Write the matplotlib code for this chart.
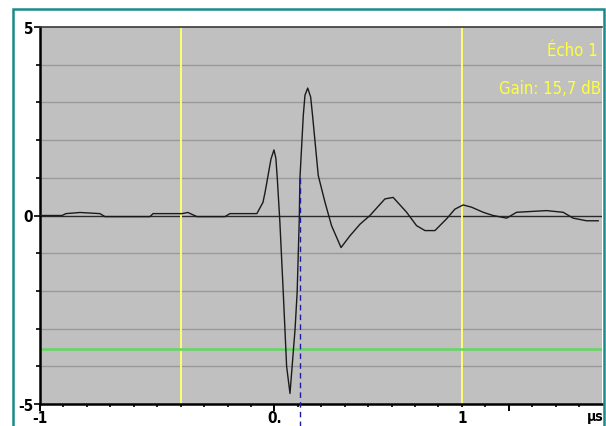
import matplotlib
matplotlib.use("Agg")
import matplotlib.pyplot as plt
from matplotlib.patches import Rectangle
from matplotlib import font_manager

# ---- data ----
time_us = [-1.000, -0.896, -0.877, -0.810, -0.716, -0.692, -0.479, -0.464, -0.327,
           -0.299, -0.256, -0.123, -0.100, 0.028, 0.057, 0.067, 0.081, 0.095, 0.109,
           0.118, 0.125, 0.137,
           0.153, 0.169, 0.185, 0.209, 0.219, 0.229, 0.232, 0.248, 0.256, 0.269,
           0.283, 0.292,
           0.319, 0.351, 0.382, 0.427, 0.469, 0.517, 0.564, 0.635, 0.674, 0.738,
           0.785, 0.825, 0.872, 0.927, 0.967, 1.006, 1.046, 1.101, 1.148, 1.212,
           1.259, 1.401, 1.480, 1.527, 1.591, 1.646]
amplitude = [0.00, 0.00, 0.05, 0.08, 0.05, -0.03, -0.03, 0.05, 0.05,
             0.08, -0.03, -0.03, 0.05, 0.05, 0.35, 0.62, 1.06, 1.50, 1.74,
             1.52, 0.97, -0.17,
             -2.03, -4.00, -4.72, -3.02, -2.03, -0.09, 0.97, 2.65, 3.19, 3.38,
             3.14, 2.65,
             1.06, 0.35, -0.27, -0.85, -0.54, -0.23, 0.00, 0.44, 0.48, 0.085,
             -0.27, -0.40, -0.40, -0.09, 0.17, 0.28, 0.22, 0.085, 0.00, -0.07,
             0.085, 0.13, 0.085, -0.07, -0.14, -0.14]
gate_level = -3.55
yellow_markers = [-1/3, 1.0]
cursor_x = 0.232
ytick_labels = ["5", "0", "-5"]
ytick_values = [5, 0, -5]
xtick_labels = ["-1", "0.", "1"]
title_lines = ["Écho 1", "Gain: 15,7 dB"]
unit_label = "µs"

# ---- font choice: prefer a narrow sans like the reference ----
_fl = font_manager.fontManager.ttflist
_names = {f.name for f in _fl}
if "Liberation Sans Narrow" in _names:
    FONT, STRETCH = "Liberation Sans Narrow", "normal"
elif any(f.name == "DejaVu Sans" and str(f.stretch) in ("condensed", "semi-condensed", "75", "87")
         for f in _fl):
    FONT, STRETCH = "DejaVu Sans", "condensed"
else:
    FONT, STRETCH = "Liberation Sans", "normal"

W, H = 606, 427
fig = plt.figure(figsize=(W / 100, H / 100), dpi=100)
fig.patch.set_facecolor("white")

# teal frame
fig.patches.append(Rectangle((13 / W, -0.05), (604 - 13) / W, 1.05 - 10 / H,
                             transform=fig.transFigure, fill=False,
                             edgecolor="#1b8a8a", linewidth=1.8))

ax = fig.add_axes([40 / W, 22 / H, (602 - 40) / W, (405 - 28) / H])
ax.set_facecolor("#c0c0c0")
ax.set_xlim(-1, 1.664)
ax.set_ylim(-5, 5)

# grid lines
for y in range(-4, 5):
    if y == 0:
        continue
    ax.axhline(y, color="#9a9a9a", lw=1.0, zorder=1)
ax.axhline(0, color="#2a2a2a", lw=1.0, zorder=2)

for xm in yellow_markers:
    ax.axvline(xm, color="#ffff70", lw=1.4, zorder=2)
ax.axhline(gate_level, color="#5fd85f", lw=1.8, zorder=2)

ax.plot(time_us, amplitude, color="#1a1a1a", lw=1.0, zorder=4)

ax.plot([cursor_x, cursor_x], [1.0, -5.6], color="#1c1ca0", lw=1.0,
        ls=(0, (4, 3)), zorder=5, clip_on=False)

# spines
ax.spines["right"].set_visible(False)
ax.spines["top"].set_color("#3a3a3a")
ax.spines["top"].set_linewidth(1.2)
ax.spines["left"].set_linewidth(1.8)
ax.spines["bottom"].set_linewidth(1.8)

# ticks
ax.set_yticks(ytick_values)
ax.set_yticklabels(ytick_labels, fontfamily=FONT, fontstretch=STRETCH,
                   fontsize=11, fontweight="bold")
ax.set_yticks(list(range(-4, 5)), minor=True)
ax.tick_params(axis="y", which="major", length=4, width=1.2, pad=1)
ax.tick_params(axis="y", which="minor", length=3, width=1.2)

major_x = [-1, -1 + 10 / 9, -1 + 20 / 9]
ax.set_xticks(major_x)
ax.set_xticklabels(["", "", ""])
ax.set_xticks([-1 + k / 9 for k in range(0, 24)], minor=True)
ax.tick_params(axis="x", which="major", length=5, width=1.4)
ax.tick_params(axis="x", which="minor", length=2.5, width=1.2)

trans = ax.get_xaxis_transform()
for xv, lab in zip([-1, -1 + 10 / 9, 1.0], xtick_labels):
    ax.text(xv, -0.015, lab, transform=trans, ha="center", va="top",
            fontfamily=FONT, fontstretch=STRETCH, fontsize=11, fontweight="bold")
ax.text(1.632, -0.014, unit_label, transform=trans, ha="center", va="top",
        fontfamily=FONT, fontstretch=STRETCH, fontsize=10, fontweight="bold")

# annotations
ax.text(0.992, 0.962, title_lines[0], transform=ax.transAxes, ha="right", va="top",
        color="#ffff40", fontfamily=FONT, fontstretch=STRETCH, fontsize=12)
ax.text(0.999, 0.862, title_lines[1], transform=ax.transAxes, ha="right", va="top",
        color="#ffff40", fontfamily=FONT, fontstretch=STRETCH, fontsize=12)

fig.savefig("out.png", dpi=100, facecolor="white")
